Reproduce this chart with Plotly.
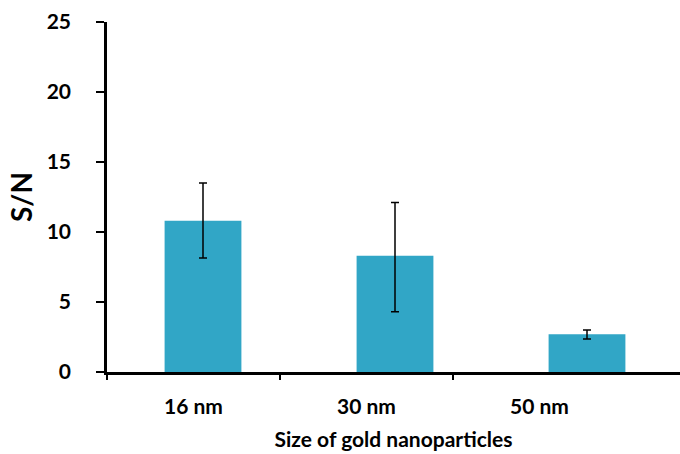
import plotly.graph_objects as go

categories = ["16 nm", "30 nm", "50 nm"]
sn_values = [10.8, 8.3, 2.7]
err_plus = [2.7, 3.8, 0.3]
err_minus = [2.65, 4.0, 0.35]
y_ticks = [0, 5, 10, 15, 20, 25]

FONT = "Lato"
BAR_COLOR = "#31a6c6"

fig = go.Figure()
fig.add_trace(go.Bar(
    x=categories, y=sn_values,
    width=0.40,
    marker=dict(color=BAR_COLOR, line=dict(width=0)),
    error_y=dict(type="data", symmetric=False, array=err_plus, arrayminus=err_minus,
                 color="black", thickness=1.5, width=4),
    xaxis="x", yaxis="y", showlegend=False,
))
# invisible trace to anchor the label axis
fig.add_trace(go.Scatter(
    x=[0, 1, 2], y=[0, 0, 0], mode="markers",
    marker=dict(opacity=0), hoverinfo="skip", showlegend=False,
    xaxis="x2", yaxis="y",
))

fig.update_layout(
    width=680, height=454,
    margin=dict(l=107, r=0, t=22, b=82),
    paper_bgcolor="white", plot_bgcolor="white",
    font=dict(family=FONT, color="black"),
    bargap=0.6,
    xaxis=dict(
        type="category", range=[-0.5, -0.5 + 573 / 192],
        showline=True, linecolor="black", linewidth=2.5,
        ticks="", showticklabels=False, showgrid=False, zeroline=False,
        fixedrange=True,
    ),
    xaxis2=dict(
        overlaying="x", side="bottom", anchor="y",
        range=[-0.5, -0.5 + 573 / 173],
        tickvals=[0, 1, 2], ticktext=categories,
        ticks="", showline=False, showgrid=False, zeroline=False,
        tickfont=dict(family=FONT, size=21, color="black", weight="bold"),
        ticklabelstandoff=20,
        minor=dict(tickvals=[-0.5, 0.5, 1.5], ticks="outside", ticklen=7,
                   tickwidth=2, tickcolor="black", showgrid=False),
        title=dict(text="<b>Size of gold nanoparticles</b>",
                   font=dict(family=FONT, size=21, color="black"), standoff=15),
    ),
    yaxis=dict(
        range=[0, 25], tickvals=y_ticks,
        showline=True, linecolor="black", linewidth=2.5,
        ticks="outside", ticklen=8, tickwidth=2, tickcolor="black",
        showgrid=False, zeroline=False,
        tickfont=dict(family=FONT, size=21, color="black", weight="bold"),
        ticklabelstandoff=21,
        title=dict(text="<b>S/N</b>", font=dict(family=FONT, size=28, color="black"),
                   standoff=6),
    ),
)

fig.write_html("out.html")
